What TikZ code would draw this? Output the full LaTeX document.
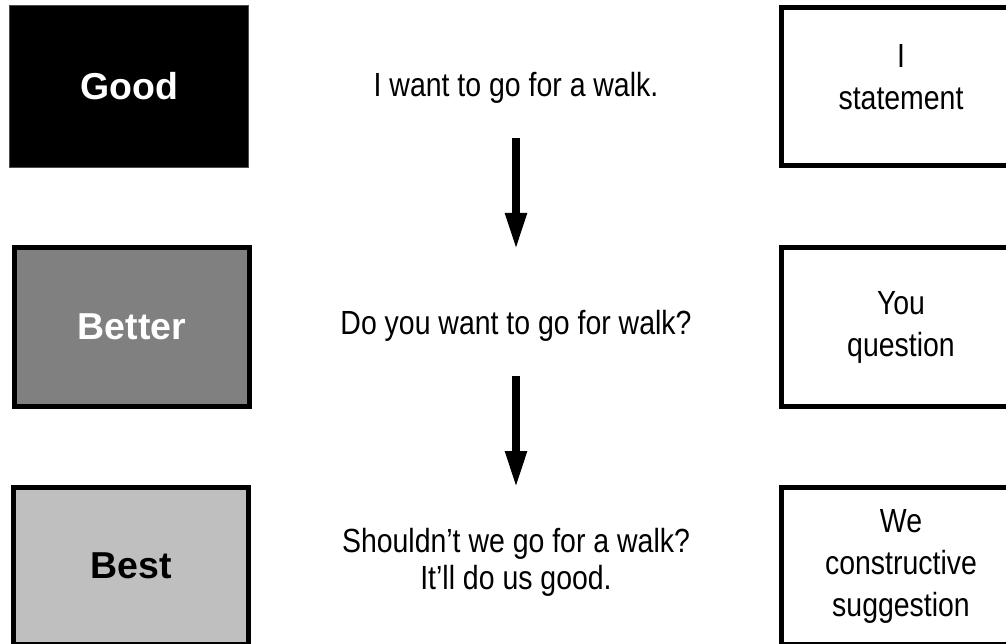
\documentclass[tikz,border=0pt]{standalone}
\usepackage{fontspec}
\setmainfont{Liberation Sans}
\newfontfamily\condfont{Liberation Sans}[FakeStretch=0.85]
\usetikzlibrary{arrows.meta}

\begin{document}
\begin{tikzpicture}[
  x=0.75pt, y=-0.75pt,
  >={Triangle[length=27.75pt, width=15pt]},
  level/.style={rectangle, draw=black, line width=3.75pt, fill=#1,
                minimum width=176.25pt, minimum height=119pt, inner sep=0pt,
                font=\fontsize{28.1pt}{32pt}\selectfont\bfseries},
  kind/.style={rectangle, draw=black, line width=3.75pt, fill=white,
               minimum width=179.25pt, minimum height=119pt, inner sep=0pt, align=center,
               font=\condfont\fontsize{25.1pt}{31.5pt}\selectfont},
  stmt/.style={inner sep=0pt, align=center,
               font=\condfont\fontsize{25.1pt}{27.75pt}\selectfont},
  arr/.style={->, line width=6pt},
]

% page = 1006 x 643 px, one unit = one px
\useasboundingbox (0,0) rectangle (1006,643);
\clip (0,0) rectangle (1006,643);

% ================= NODES (explicit coords, px) =================
\node[level=black, draw=black!70, line width=0.75pt, minimum width=179.25pt,
      minimum height=121.5pt, text=white] (good)   at (129,86.5) {Good};
\node[level=black!50, text=white]         (better) at (132,327)  {Better};
\node[level=black!25, minimum height=117.75pt] (best) at (131,566) {Best};

\node[stmt, anchor=base]  (stmtgood)   at (516,96)  {I want to go for a walk.};
\node[stmt, anchor=base]  (stmtbetter) at (516,334) {Do you want to go for walk?};
\node[stmt, anchor=north] (stmtbest)   at (516,528) {Shouldn’t we go for a walk?\\It’ll do us good.};

\node[kind, text depth=14.25pt] (istmt) at (901,86.5) {I\\statement};
\node[kind] (youq)    at (901,327)  {You\\question};
\node[kind, minimum height=117.75pt] (wesugg) at (901,566) {We\\constructive\\suggestion};

% ================= EDGES =================
\draw[arr, shorten <=26.25pt, shorten >=44.7pt] (stmtgood) -- (stmtbetter);
\draw[arr, shorten <=26.25pt, shorten >=30pt]   (stmtbetter) -- (stmtbest);

\end{tikzpicture}
\end{document}
